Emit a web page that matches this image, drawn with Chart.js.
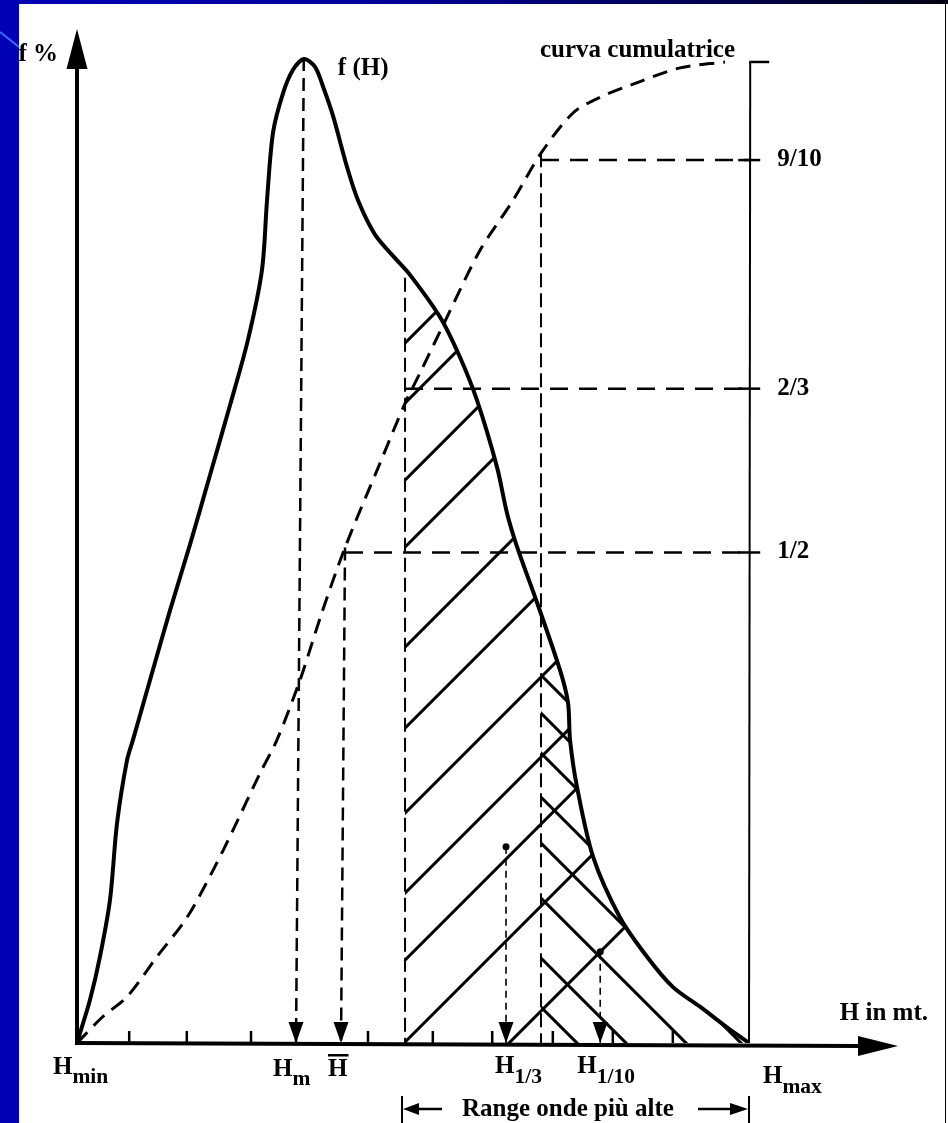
<!DOCTYPE html>
<html><head><meta charset="utf-8">
<script src="https://cdn.jsdelivr.net/npm/chart.js@4.4.1/dist/chart.umd.min.js"></script>
<style>
html,body{margin:0;padding:0;background:#fff;width:948px;height:1123px;overflow:hidden;}
#left{position:absolute;left:0;top:0;width:19px;height:1123px;background:#0000b4;}
#top{position:absolute;left:0;top:0;width:948px;height:4px;background:linear-gradient(to right,#0000b4,#00009a 40%,#000050 75%,#000012);}
#rline{position:absolute;left:945px;top:4px;width:1px;height:1119px;background:#000;}
#deco{position:absolute;left:0;top:0;}
canvas{position:absolute;left:0;top:0;}
</style></head><body>
<div id="left"></div><div id="top"></div><div id="rline"></div>
<svg id="deco" width="40" height="60"><line x1="0" y1="32" x2="19" y2="47" stroke="#3f6cff" stroke-width="2"/></svg>
<canvas id="c" width="948" height="1123"></canvas>
<script>
// ---- data (H in m on x, fraction on y) ----
const fH_x = [0,0.217,0.383,0.55,0.667,0.833,0.933,1.217,1.55,1.883,2.217,2.55,2.85,3.083,3.167,3.267,3.433,3.6,3.783,3.967,4.1,4.267,4.5,4.683,4.967,5.3,5.55,6.05,6.383,6.667,7.0,7.167,7.333,7.667,8.05,8.183,8.217,8.333,8.6,9.05,9.5,9.933,10.383,10.833,11.2];
const fH_y = [0,0.044,0.088,0.146,0.224,0.288,0.309,0.370,0.441,0.508,0.579,0.650,0.717,0.788,0.859,0.928,0.968,0.992,1.003,0.995,0.975,0.945,0.893,0.859,0.824,0.800,0.783,0.740,0.699,0.655,0.587,0.540,0.506,0.449,0.380,0.347,0.309,0.261,0.190,0.128,0.088,0.057,0.037,0.016,0];
const cum_x = [0,0.433,0.833,1.333,1.833,2.267,2.6,3.05,3.333,3.717,4.083,4.467,5.05,5.467,5.717,6.167,6.717,7.267,7.733,8.267,8.717,9.383,10.05,10.8];
const cum_y = [0,0.027,0.047,0.088,0.128,0.176,0.217,0.275,0.309,0.370,0.439,0.505,0.591,0.652,0.683,0.740,0.808,0.859,0.907,0.948,0.964,0.980,0.994,1.0];
const levelValues = [0.5, 0.667, 0.9];
const levelLabels = ['1/2', '2/3', '9/10'];
const levelStartX = [4.467, 5.467, 7.733];
const markerSub = ['m', '', '1/3', '1/10'];
const markerAxisX = [3.65, 4.40, 7.15, 8.72];
const markerTopX = [3.78, 4.467, 7.15, 8.72];
const markerTopY = [1.004, 0.505, 0.200, 0.093];
const rangeStartX = 5.467, rangeStartTop = 0.78;
const tenthStartX = 7.733, tenthStartTop = 0.907;
const hMax = 11.2;
const cumAxisX = 11.22, cumAxisTop = 1.0;
const tickX = [0.87,1.83,2.9,4.85,5.93,6.92,7.93,8.93,9.93];
const xMax = 13.683, yMax = 1.0336;

// hatch styling (pixel offsets above the axis where lines meet the boundary)
const HATCH_A = [-104, 1, 83, 150, 230, 315, 396, 496, 563, 640, 700];
const HATCH_B = [368, 330, 290, 246, 200, 145, 85, 36];

const pts = (xs, ys) => xs.map((x, i) => ({x, y: ys[i]}));
const datasets = [];
datasets.push({data: pts(fH_x, fH_y), borderColor:'#000', borderWidth:4, tension:0.3});
datasets.push({data: pts(cum_x, cum_y), borderColor:'#000', borderWidth:3, borderDash:[15,9], tension:0.3});
levelValues.forEach((v,i)=>datasets.push({data:[{x:levelStartX[i],y:v},{x:cumAxisX,y:v}], borderColor:'#000', borderWidth:2.5, borderDash:[18,11]}));
markerAxisX.forEach((x,i)=>datasets.push({data:[{x:markerTopX[i],y:markerTopY[i]},{x:x,y:0}], borderColor:'#000', borderWidth: i<2?2.5:1.6, borderDash: i<2?[13,7]:[7,5]}));
datasets.push({data:[{x:rangeStartX,y:rangeStartTop},{x:rangeStartX,y:0}], borderColor:'#000', borderWidth:2, borderDash:[14,6]});
datasets.push({data:[{x:tenthStartX,y:tenthStartTop},{x:tenthStartX,y:0}], borderColor:'#000', borderWidth:2, borderDash:[14,6]});
datasets.push({data:[{x:cumAxisX,y:cumAxisTop},{x:hMax,y:0}], borderColor:'#000', borderWidth:2});

const FONT = 'bold 25px "Liberation Serif"';
const SUB = 'bold 21.5px "Liberation Serif"';

function curvePath(ctx, p){
  ctx.moveTo(p[0].x, p[0].y);
  for (let i=1;i<p.length;i++){
    const a=p[i-1], b=p[i];
    if (a.cp2x!==undefined && b.cp1x!==undefined) ctx.bezierCurveTo(a.cp2x,a.cp2y,b.cp1x,b.cp1y,b.x,b.y);
    else ctx.lineTo(b.x,b.y);
  }
}

const hatchPlugin = {
  id:'hatch',
  beforeDatasetsDraw(chart){
    const meta = chart.getDatasetMeta(0);
    meta.dataset.updateControlPoints(chart.chartArea, 'x');
    const p = meta.data;
    const ctx = chart.ctx, xs = chart.scales.x, ys = chart.scales.y, area = chart.chartArea;
    const y0 = ys.getPixelForValue(0);
    const xa = xs.getPixelForValue(rangeStartX), xb = xs.getPixelForValue(tenthStartX), xe = xs.getPixelForValue(hMax)+2;
    const clipTo = (xl)=>{
      ctx.beginPath(); ctx.rect(xl, area.top, xe-xl, y0-area.top); ctx.clip();
      ctx.beginPath(); curvePath(ctx,p); ctx.lineTo(p[p.length-1].x,y0); ctx.lineTo(p[0].x,y0); ctx.closePath(); ctx.clip();
    };
    ctx.save(); clipTo(xa);
    ctx.strokeStyle='#000'; ctx.lineWidth=3;
    ctx.beginPath();
    HATCH_A.forEach(o=>{ const yA=y0-o; ctx.moveTo(xa-20,yA+20); ctx.lineTo(xa+600,yA-600); });
    ctx.stroke(); ctx.restore();
    ctx.save(); clipTo(xb);
    ctx.strokeStyle='#000'; ctx.lineWidth=3;
    ctx.beginPath();
    HATCH_B.forEach(o=>{ const yB=y0-o; ctx.moveTo(xb-10,yB-10); ctx.lineTo(xb+500,yB+500); });
    ctx.stroke(); ctx.restore();
  }
};

function tri(ctx, a, b, c){ ctx.beginPath(); ctx.moveTo(a[0],a[1]); ctx.lineTo(b[0],b[1]); ctx.lineTo(c[0],c[1]); ctx.closePath(); ctx.fill(); }
function sub(ctx, main, s, x, y, dy){
  ctx.font = FONT; ctx.textAlign='left'; ctx.fillText(main, x, y);
  const w = ctx.measureText(main).width;
  if (s){ ctx.font = SUB; ctx.fillText(s, x+w, y+dy); }
  return w;
}

const decoPlugin = {
  id:'deco',
  afterDatasetsDraw(chart){
    const ctx = chart.ctx, xs = chart.scales.x, ys = chart.scales.y, area = chart.chartArea;
    const X = v=>xs.getPixelForValue(v), Y = v=>ys.getPixelForValue(v);
    const x0 = X(0), y0 = Y(0);
    ctx.save();
    ctx.fillStyle='#000'; ctx.strokeStyle='#000'; ctx.lineCap='butt';
    ctx.lineWidth=4;
    ctx.beginPath(); ctx.moveTo(x0, y0+2); ctx.lineTo(x0, area.top+38); ctx.stroke();
    tri(ctx,[x0,area.top],[x0-10.5,area.top+40],[x0+10.5,area.top+40]);
    ctx.beginPath(); ctx.moveTo(x0-1, y0); ctx.lineTo(area.right-38, y0+3); ctx.stroke();
    tri(ctx,[area.right,y0+3],[area.right-40,y0-7],[area.right-40,y0+13]);
    ctx.lineWidth=2.5;
    tickX.forEach(t=>{ ctx.beginPath(); ctx.moveTo(X(t), y0); ctx.lineTo(X(t), y0-12); ctx.stroke(); });
    markerAxisX.forEach(t=>tri(ctx,[X(t),y0],[X(t)-7.5,y0-21],[X(t)+7.5,y0-21]));
    [2,3].forEach(i=>{ ctx.beginPath(); ctx.arc(X(markerTopX[i]),Y(markerTopY[i]),3.5,0,Math.PI*2); ctx.fill(); });
    const xr = X(cumAxisX);
    ctx.lineWidth=2.5;
    ctx.beginPath(); ctx.moveTo(xr-1, Y(cumAxisTop)); ctx.lineTo(xr+19, Y(cumAxisTop)); ctx.stroke();
    levelValues.forEach(v=>{ ctx.beginPath(); ctx.moveTo(xr-12, Y(v)); ctx.lineTo(xr+10, Y(v)); ctx.stroke(); });
    ctx.font = FONT; ctx.textBaseline='alphabetic';
    levelValues.forEach((v,i)=>{ ctx.textAlign='left'; ctx.fillText(levelLabels[i], xr+27, Y(v)+6); });
    ctx.textAlign='right'; ctx.fillText('f %', x0-19, area.top+32);
    ctx.textAlign='left'; ctx.fillText('f (H)', X(markerTopX[0])+34, area.top+46);
    ctx.textAlign='right'; ctx.fillText('curva cumulatrice', X(cum_x[cum_x.length-1])+10, area.top+28);
    ctx.textAlign='right'; ctx.fillText('H in mt.', area.right+30, y0-23);
    sub(ctx,'H','min', x0-24, y0+31, 9);
    sub(ctx,'H',markerSub[0], X(markerAxisX[0])-23, y0+33, 9);
    const wb = sub(ctx,'H',markerSub[1], X(markerAxisX[1])-13, y0+33, 9);
    ctx.fillRect(X(markerAxisX[1])-13, y0+33-22, wb+1, 2.5);
    sub(ctx,'H',markerSub[2], X(markerAxisX[2])-11, y0+30, 10);
    sub(ctx,'H',markerSub[3], X(markerAxisX[3])-23, y0+30, 10);
    sub(ctx,'H','max', X(hMax)+14, y0+40, 10);
    const ra = X(rangeStartX)-3, rb = X(hMax), ry = y0+66;
    ctx.lineWidth=2;
    ctx.beginPath(); ctx.moveTo(ra, y0+53); ctx.lineTo(ra, 1123); ctx.moveTo(rb, y0+53); ctx.lineTo(rb,1123); ctx.stroke();
    ctx.lineWidth=2.5;
    ctx.beginPath(); ctx.moveTo(ra+14, ry); ctx.lineTo(ra+40, ry); ctx.moveTo(rb-51, ry); ctx.lineTo(rb-17, ry); ctx.stroke();
    tri(ctx,[ra+1,ry],[ra+17,ry-6],[ra+17,ry+6]);
    tri(ctx,[rb-1,ry],[rb-19,ry-6],[rb-19,ry+6]);
    ctx.font = FONT; ctx.textAlign='left';
    ctx.fillText('Range onde più alte', ra+60, y0+73);
    ctx.restore();
  }
};

new Chart(document.getElementById('c'), {
  type:'line',
  data:{datasets},
  options:{
    responsive:false, animation:false, devicePixelRatio:1,
    layout:{padding:{left:77, right:50, top:29, bottom:80}},
    elements:{point:{radius:0}, line:{fill:false}},
    plugins:{legend:{display:false}, tooltip:{enabled:false}},
    scales:{
      x:{type:'linear', min:0, max:xMax, display:false},
      y:{type:'linear', min:0, max:yMax, display:false}
    }
  },
  plugins:[hatchPlugin, decoPlugin]
});
</script>
</body></html>
